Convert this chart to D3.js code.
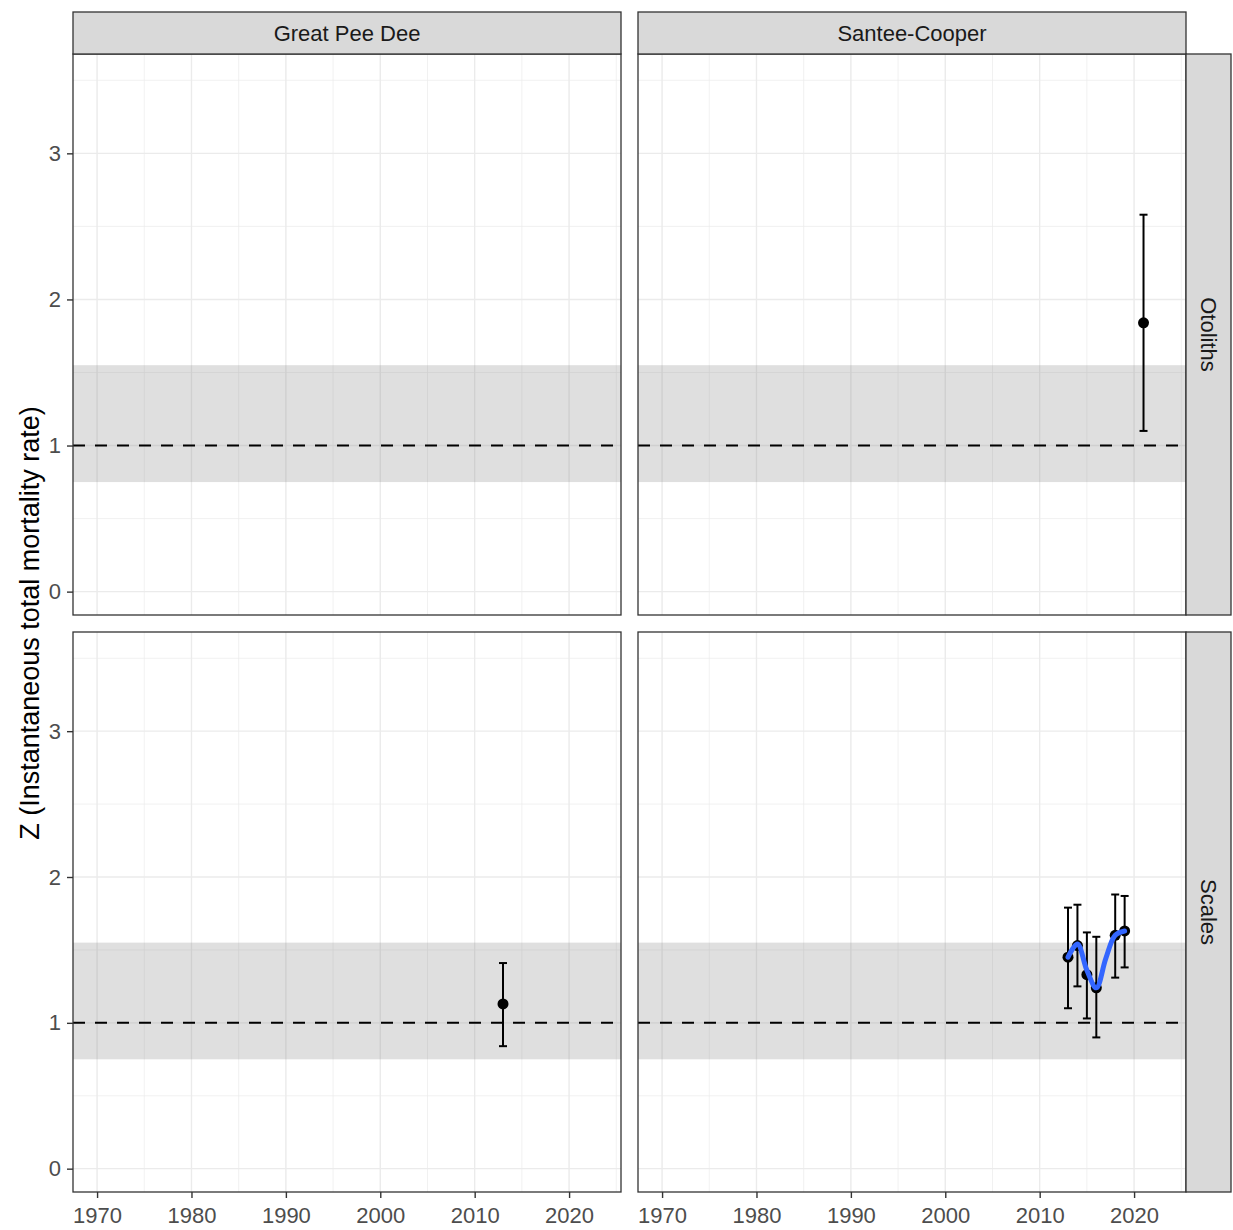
<!DOCTYPE html>
<html><head><meta charset="utf-8">
<script src="https://cdn.jsdelivr.net/npm/d3@7"></script>
<style>body{margin:0;background:#fff;font-family:"Liberation Sans",Arial,sans-serif;}</style>
</head><body>
<svg id="chart" width="1233" height="1230"></svg>
<script>
// ---- data ----
const columns = ["Great Pee Dee", "Santee-Cooper"];
const rows = ["Otoliths", "Scales"];

const ptRiver  = ["Santee-Cooper", "Great Pee Dee", "Santee-Cooper", "Santee-Cooper", "Santee-Cooper", "Santee-Cooper", "Santee-Cooper", "Santee-Cooper"];
const ptMethod = ["Otoliths", "Scales", "Scales", "Scales", "Scales", "Scales", "Scales", "Scales"];
const ptYear   = [2021, 2013, 2013, 2014, 2015, 2016, 2018, 2019];
const ptZ      = [1.84, 1.13, 1.45, 1.53, 1.33, 1.24, 1.60, 1.63];
const ptLower  = [1.10, 0.84, 1.10, 1.25, 1.03, 0.90, 1.31, 1.38];
const ptUpper  = [2.58, 1.41, 1.79, 1.81, 1.62, 1.59, 1.88, 1.87];

const smoothRiver  = "Santee-Cooper";
const smoothMethod = "Scales";
const smoothYear = [2013, 2014, 2015, 2016, 2017, 2018, 2019];
const smoothZ    = [1.45, 1.54, 1.36, 1.24, 1.44, 1.60, 1.63];

const refZ = 1;
const bandLow = 0.75, bandHigh = 1.55;

const xTicks = [1970, 1980, 1990, 2000, 2010, 2020];
const xMinor = [1975, 1985, 1995, 2005, 2015, 2025];
const yTicks = [0, 1, 2, 3];
const yMinor = [0.5, 1.5, 2.5, 3.5];
const yTitle = "Z (Instantaneous total mortality rate)";

// ---- layout ----
const svg = d3.select("#chart");
const colX = [[73, 621], [638, 1186]];
const rowY = [[54, 615], [632, 1192]];
const stripTop = 12, stripRight = 1231;

const xDomain = [1967.45, 2025.5];
const yDomain = [-0.16, 3.68];

const dark = "#333333", grid = "#ebebeb", stripFill = "#d9d9d9";
const font = "Liberation Sans, Arial, sans-serif";

columns.forEach((col, ci) => {
  rows.forEach((row, ri) => {
    const [x0, x1] = colX[ci], [y0, y1] = rowY[ri];
    const x = d3.scaleLinear().domain(xDomain).range([x0, x1]);
    const y = d3.scaleLinear().domain(yDomain).range([y1, y0]);
    const g = svg.append("g");
    g.append("rect").attr("x", x0).attr("y", y0).attr("width", x1 - x0).attr("height", y1 - y0).attr("fill", "#fff");
    // minor grid
    g.selectAll(null).data(xMinor).join("line")
      .attr("x1", d => x(d)).attr("x2", d => x(d)).attr("y1", y0).attr("y2", y1)
      .attr("stroke", grid).attr("stroke-width", 0.7);
    g.selectAll(null).data(yMinor).join("line")
      .attr("y1", d => y(d)).attr("y2", d => y(d)).attr("x1", x0).attr("x2", x1)
      .attr("stroke", grid).attr("stroke-width", 0.7);
    // major grid
    g.selectAll(null).data(xTicks).join("line")
      .attr("x1", d => x(d)).attr("x2", d => x(d)).attr("y1", y0).attr("y2", y1)
      .attr("stroke", grid).attr("stroke-width", 1.4);
    g.selectAll(null).data(yTicks).join("line")
      .attr("y1", d => y(d)).attr("y2", d => y(d)).attr("x1", x0).attr("x2", x1)
      .attr("stroke", grid).attr("stroke-width", 1.4);
    // band
    g.append("rect").attr("x", x0).attr("width", x1 - x0)
      .attr("y", y(bandHigh)).attr("height", y(bandLow) - y(bandHigh))
      .attr("fill", "#7f7f7f").attr("opacity", 0.25);
    // ref line
    g.append("line").attr("x1", x0).attr("x2", x1).attr("y1", y(refZ)).attr("y2", y(refZ))
      .attr("stroke", "#000").attr("stroke-width", 2).attr("stroke-dasharray", "12,10");
    // error bars + points
    const idx = d3.range(ptYear.length).filter(i => ptRiver[i] === col && ptMethod[i] === row);
    const eb = g.selectAll(null).data(idx).join("g");
    eb.append("line").attr("x1", i => x(ptYear[i])).attr("x2", i => x(ptYear[i]))
      .attr("y1", i => y(ptLower[i])).attr("y2", i => y(ptUpper[i]))
      .attr("stroke", "#000").attr("stroke-width", 2);
    eb.append("line").attr("x1", i => x(ptYear[i]) - 4).attr("x2", i => x(ptYear[i]) + 4)
      .attr("y1", i => y(ptLower[i])).attr("y2", i => y(ptLower[i]))
      .attr("stroke", "#000").attr("stroke-width", 2);
    eb.append("line").attr("x1", i => x(ptYear[i]) - 4).attr("x2", i => x(ptYear[i]) + 4)
      .attr("y1", i => y(ptUpper[i])).attr("y2", i => y(ptUpper[i]))
      .attr("stroke", "#000").attr("stroke-width", 2);
    g.selectAll(null).data(idx).join("circle")
      .attr("cx", i => x(ptYear[i])).attr("cy", i => y(ptZ[i])).attr("r", 5.5).attr("fill", "#000");
    // smooth (on top)
    if (col === smoothRiver && row === smoothMethod) {
      const line = d3.line().x((d, i) => x(smoothYear[i])).y(d => y(d)).curve(d3.curveCatmullRom.alpha(0.5));
      g.append("path").attr("d", line(smoothZ)).attr("fill", "none")
        .attr("stroke", "#3366FF").attr("stroke-width", 5).attr("stroke-linecap", "round");
    }
    // border
    g.append("rect").attr("x", x0).attr("y", y0).attr("width", x1 - x0).attr("height", y1 - y0)
      .attr("fill", "none").attr("stroke", dark).attr("stroke-width", 1.3);

    // y axis (left column)
    if (ci === 0) {
      const ax = svg.append("g").attr("transform", `translate(${x0},0)`)
        .call(d3.axisLeft(y).tickValues(yTicks).tickSize(6).tickPadding(6).tickFormat(d3.format("d")));
      ax.select(".domain").remove();
      ax.selectAll("line").attr("stroke", dark).attr("stroke-width", 1.4);
      ax.selectAll("text").attr("fill", "#4d4d4d").style("font-size", "22px").style("font-family", font);
    }
    // x axis (bottom row)
    if (ri === 1) {
      const ax = svg.append("g").attr("transform", `translate(0,${y1})`)
        .call(d3.axisBottom(x).tickValues(xTicks).tickSize(6).tickPadding(9).tickFormat(d3.format("d")));
      ax.select(".domain").remove();
      ax.selectAll("line").attr("stroke", dark).attr("stroke-width", 1.4);
      ax.selectAll("text").attr("fill", "#4d4d4d").style("font-size", "22px").style("font-family", font);
    }
  });
  // top strip
  const [x0, x1] = colX[ci];
  svg.append("rect").attr("x", x0).attr("y", stripTop).attr("width", x1 - x0).attr("height", rowY[0][0] - stripTop)
    .attr("fill", stripFill).attr("stroke", dark).attr("stroke-width", 1.3);
  svg.append("text").attr("x", (x0 + x1) / 2).attr("y", (stripTop + rowY[0][0]) / 2)
    .attr("text-anchor", "middle").attr("dominant-baseline", "central")
    .attr("fill", "#1a1a1a").style("font-size", "22px").text(col);
});

rows.forEach((row, ri) => {
  const [y0, y1] = rowY[ri];
  const sx = colX[1][1];
  svg.append("rect").attr("x", sx).attr("y", y0).attr("width", stripRight - sx).attr("height", y1 - y0)
    .attr("fill", stripFill).attr("stroke", dark).attr("stroke-width", 1.3);
  const cx = (sx + stripRight) / 2, cy = (y0 + y1) / 2;
  svg.append("text").attr("transform", `translate(${cx},${cy}) rotate(90)`)
    .attr("text-anchor", "middle").attr("dominant-baseline", "central")
    .attr("fill", "#1a1a1a").style("font-size", "22px").text(row);
});

svg.append("text").attr("transform", `translate(30,${(rowY[0][0] + rowY[1][1]) / 2}) rotate(-90)`)
  .attr("text-anchor", "middle").attr("dominant-baseline", "central")
  .attr("fill", "#000").style("font-size", "27px").text(yTitle);
</script>
</body></html>
